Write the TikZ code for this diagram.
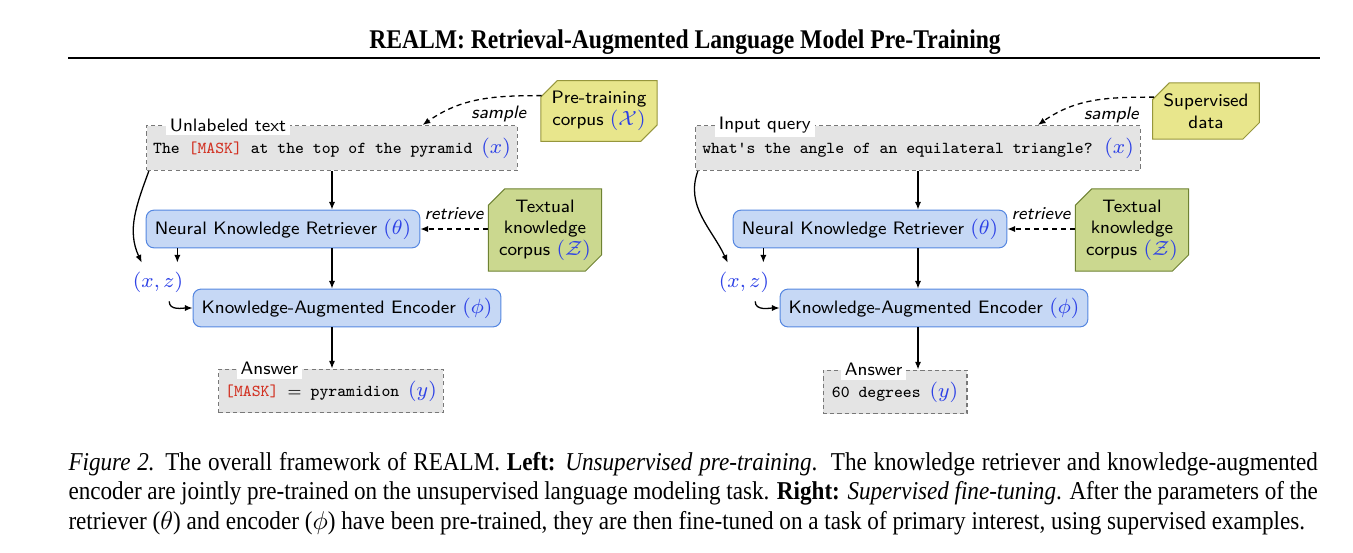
\documentclass[tikz,border=0pt]{standalone}
\usepackage{fontspec}
\setmainfont{Liberation Serif}[FakeStretch=0.9]
\newfontfamily\titlefont{Liberation Serif}[FakeStretch=0.875]
\usepackage{xcolor}
\usetikzlibrary{positioning,shapes.misc,arrows.meta}
\definecolor{qblue}{RGB}{45,65,230}
\definecolor{maskred}{RGB}{210,50,35}
\definecolor{boxgray}{RGB}{228,228,228}
\definecolor{dashgray}{RGB}{120,120,120}
\definecolor{encfill}{RGB}{198,216,245}
\definecolor{encdraw}{RGB}{85,135,225}
\definecolor{corpfill}{RGB}{232,230,140}
\definecolor{corpdraw}{RGB}{150,150,60}
\definecolor{knowfill}{RGB}{203,216,143}
\definecolor{knowdraw}{RGB}{110,130,50}
\newcommand{\qv}[1]{{\fontsize{8.5}{9}\selectfont\textcolor{qblue}{$#1$}}}
\newcommand{\mask}{\textcolor{maskred}{[MASK]}}
\tikzstyle{txtbox} = [draw=dashgray, dash pattern=on 1.6pt off 1.2pt, fill=boxgray,
    minimum height=17.5pt, inner xsep=2.5pt, font=\ttfamily\fontsize{6.5}{8}\selectfont]
\tikzset{sf/.style={font=\sffamily\fontsize{7}{8.4}\selectfont},
    boxlabel/.style={sf, fill=white, inner sep=1.5pt, anchor=west},
    model/.style={sf, draw=encdraw, fill=encfill, rounded corners=3pt, minimum height=13pt},
    corpus/.style={sf, chamfered rectangle, chamfered rectangle corners={north west,south east},
        chamfered rectangle xsep=3.2pt, chamfered rectangle ysep=3.2pt, align=center, inner sep=1pt},
    conn/.style={-{Latex[length=3pt,width=2.4pt]}, line width=0.5pt},
    dconn/.style={conn, dash pattern=on 2pt off 1.5pt},
    edgelbl/.style={sf, font=\sffamily\itshape\fontsize{7}{8.4}\selectfont}}

\begin{document}
\begin{tikzpicture}[x=0.389pt, y=0.389pt]
    \useasboundingbox (0,0) rectangle (1353,-552);
    % title and rule
    \node[font=\titlefont\bfseries\fontsize{10.5}{12}\selectfont] (title) at (685,-42)
        {REALM: Retrieval-Augmented Language Model Pre-Training};
    \draw[line width=1.1pt] (68,-58) coordinate (ruleL) -- (1320,-58) coordinate (ruleR);
    %
    % left: unsupervised pre-training
    \node[txtbox, minimum width=143pt] (inL) at (332,-148)
        {The \mask{} at the top of the pyramid \qv{(x)}};
    \node[boxlabel] (labL) at ([xshift=7.5pt]inL.north west) {Unlabeled text};
    \node[corpus, fill=corpfill, draw=corpdraw, minimum width=39.7pt, minimum height=19.5pt]
        (corpL) at (599,-111) {Pre-training\\corpus \qv{(\mathcal{X})}};
    \node[model, minimum width=105.4pt, minimum height=13.6pt] (retL) at (283,-229)
        {Neural Knowledge Retriever \qv{(\theta)}};
    \node[corpus, fill=knowfill, draw=knowdraw, minimum width=38.1pt, minimum height=28.8pt]
        (knowL) at (545,-230) {Textual\\knowledge\\corpus \qv{(\mathcal{Z})}};
    \node[sf] (xzL) at (158,-282) {\qv{(x,z)}};
    \node[model, minimum width=114.8pt, minimum height=12.8pt] (encL) at (347,-308)
        {Knowledge-Augmented Encoder \qv{(\phi)}};
    \node[txtbox, minimum width=86pt, minimum height=17.1pt] (ansL) at (331,-391)
        {\mask{} $=$ pyramidion \qv{(y)}};
    \node[boxlabel] (alabL) at ([xshift=7pt]ansL.north west) {Answer};
    %
    \draw[dconn] (corpL.165) to[out=180, in=35] ([xshift=-37pt]inL.north east);
    \node[edgelbl, anchor=north east] (smpL) at ([xshift=-2.5pt, yshift=-0.5pt]corpL.165) {sample};
    \draw[dconn] (knowL.west |- retL) -- node[edgelbl, above] {retrieve} (retL.east);
    \draw[conn] (inL.south) -- (inL.south |- retL.north);
    \draw[conn] (retL.south -| inL.south) -- (encL.north -| inL.south);
    \draw[conn] (encL.south -| inL.south) -- (ansL.north -| inL.south);
    \draw[conn] (retL.south -| xzL.45) -- (xzL.45);
    \draw[conn] ([xshift=1pt]inL.south west) to[out=250, in=115] (xzL.130);
    \draw[conn] (xzL.300) to[out=-90, in=180] (encL.west);
    %
    % right: supervised fine-tuning
    \node[txtbox, minimum width=170.8pt] (inR) at (918,-148)
        {what's the angle of an equilateral triangle? \qv{(x)}};
    \node[boxlabel] (labR) at ([xshift=7.5pt]inR.north west) {Input query};
    \node[corpus, fill=corpfill, draw=corpdraw, minimum width=37.7pt, minimum height=19pt]
        (corpR) at (1206,-111) {Supervised\\data};
    \node[model, minimum width=105.4pt, minimum height=13.6pt] (retR) at (870,-229)
        {Neural Knowledge Retriever \qv{(\theta)}};
    \node[corpus, fill=knowfill, draw=knowdraw, minimum width=38.1pt, minimum height=28.8pt]
        (knowR) at (1132,-230) {Textual\\knowledge\\corpus \qv{(\mathcal{Z})}};
    \node[sf] (xzR) at (744,-282) {\qv{(x,z)}};
    \node[model, minimum width=114.8pt, minimum height=12.8pt] (encR) at (934,-308)
        {Knowledge-Augmented Encoder \qv{(\phi)}};
    \node[txtbox, minimum width=56pt, minimum height=17.1pt] (ansR) at (895,-392)
        {60 degrees \qv{(y)}};
    \node[boxlabel] (alabR) at ([xshift=7pt]ansR.north west) {Answer};
    %
    \draw[dconn] (corpR.165) to[out=180, in=35] ([xshift=-40pt]inR.north east);
    \node[edgelbl, anchor=north east] (smpR) at ([xshift=-2.5pt, yshift=-0.5pt]corpR.165) {sample};
    \draw[dconn] (knowR.west |- retR) -- node[edgelbl, above] {retrieve} (retR.east);
    \draw[conn] (inR.south) -- (inR.south |- retR.north);
    \draw[conn] (retR.south -| inR.south) -- (encR.north -| inR.south);
    \draw[conn] (encR.south -| inR.south) -- (ansR.north -| inR.south);
    \draw[conn] (retR.south -| xzR.45) -- (xzR.45);
    \draw[conn] ([xshift=1pt]inR.south west) to[out=250, in=115] (xzR.130);
    \draw[conn] (xzR.300) to[out=-90, in=180] (encR.west);
    %
    % caption
    \node[anchor=north west, text width=486pt, align=justify, inner sep=0pt,
        font=\fontsize{10}{11.4}\selectfont] (cap) at (68,-452)
        {\textit{Figure 2.} The overall framework of REALM. \textbf{Left:} \textit{Unsupervised
        pre-training}.\ \ The knowledge retriever and knowledge-augmented\linebreak encoder are
        jointly pre-trained on the unsupervised language modeling task. \textbf{Right:}
        \textit{Supervised fine-tuning}. After the parameters of the\linebreak retriever
        ($\theta$) and encoder ($\phi$) have been pre-trained, they are then fine-tuned on a
        task of primary interest, using supervised examples.};
\end{tikzpicture}
\end{document}
